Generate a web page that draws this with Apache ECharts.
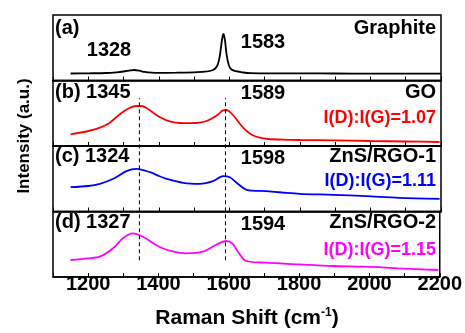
<!DOCTYPE html>
<html>
<head>
<meta charset="utf-8">
<script src="https://cdn.jsdelivr.net/npm/echarts@6/dist/echarts.min.js"></script>
<style>html,body{margin:0;padding:0;background:#fff}#c{width:465px;height:333px}</style>
</head>
<body>
<div id="c"></div>
<script>
// ---- data (Raman shift cm^-1, intensity a.u.) ----
const xMin = 1100, xMax = 2200, tickStep = 100;
const tickLabels = [1200, 1400, 1600, 1800, 2000, 2200];

const graphiteX = [1150,1200,1250,1280,1300,1320,1330,1345,1360,1380,1400,1450,1500,1530,1550,1560,1566,1570,1574,1578,1581,1583,1585,1588,1591,1595,1600,1606,1615,1625,1640,1660,1700,1800,1900,2000,2100,2200];
const graphiteY = [7.0,7.2,7.5,8.2,9.0,10.2,10.5,9.8,8.6,7.9,7.7,7.8,8.2,8.8,10,12,15,19.5,27,38,44.5,46.5,45,39,29,20,14,11,9.6,9.0,8.0,7.4,7.2,7.1,7.0,6.9,6.9,6.8];

const goX = [1150,1200,1233,1260,1280,1300,1318,1335,1350,1365,1384,1400,1422,1440,1460,1490,1516,1535,1554,1570,1582,1592,1600,1610,1620,1635,1649,1665,1686,1710,1752,1800,1894,2000,2100,2196];
const goY = [11.7,15,18.3,23,29,34.5,38.3,40,40,38,33.3,29.5,25.7,23.8,23,22.8,23.3,25,28.3,32,35.7,36,34.5,31,26.7,20,15,11,8.3,7,6.3,6,5.7,5,4.5,4];

const rgo1X = [1150,1200,1233,1271,1308,1337,1375,1400,1422,1469,1516,1554,1582,1601,1624,1649,1705,1750,1799,1894,1988,2082,2196];
const rgo1Y = [24.3,25.5,27.7,32.7,40.3,42.7,39.3,35.5,32.7,28.7,27.7,30.3,35.3,34.3,27.7,21.7,20.3,19,17.7,16.7,15.3,13.7,12.7];

const rgo2X = [1150,1200,1233,1271,1299,1326,1356,1393,1431,1478,1526,1563,1592,1610,1629,1649,1705,1799,1894,1988,2082,2196];
const rgo2Y = [17,18.7,20.3,28.7,38.7,43.7,40.3,32,26.3,23.7,25.3,32,36,33.7,23.7,16,14.3,12.7,11,10.3,8.7,7];

const panelNames = ['Graphite', 'GO', 'ZnS/RGO-1', 'ZnS/RGO-2'];
const panelTags = ['(a)', '(b) 1345', '(c) 1324', '(d) 1327'];
const dPeakLabels = ['1328', '', '', ''];
const gPeakLabels = ['1583', '1589', '1598', '1594'];
const ratioLabels = ['', 'I(D):I(G)=1.07', 'I(D):I(G)=1.11', 'I(D):I(G)=1.15'];
const colors = ['#000000', '#ff0000', '#0000ff', '#ff00ff'];
const dashX = [1345, 1589];
const dashSpan = [0.085, 0.91]; // fraction of lower three panels
const yMax = 65.5;

// ---- layout ----
const L = 53, R = 24, T = 15, H = 65.5;
const font = 'bold 20px "Liberation Sans", Arial, sans-serif';
const series = [[graphiteX, graphiteY], [goX, goY], [rgo1X, rgo1Y], [rgo2X, rgo2Y]];

const grids = [], xAxes = [], yAxes = [], ser = [];
for (let i = 0; i < 4; i++) {
  grids.push({left: L, right: R, top: T + i * H, height: H, show: true, borderColor: '#000', borderWidth: 1.5, backgroundColor: 'transparent'});
  xAxes.push({
    type: 'value', gridIndex: i, min: xMin, max: xMax, interval: tickStep,
    axisLine: {show: true, onZero: false, lineStyle: {color: '#000', width: 1.5}},
    axisTick: {show: true, inside: true, length: 4, lineStyle: {color: '#000', width: 1}},
    splitLine: {show: false},
    axisLabel: i === 3 ? {
      show: true, margin: -3, color: '#000', fontSize: 20, fontWeight: 'bold', fontFamily: '"Liberation Sans", Arial',
      formatter: v => tickLabels.indexOf(v) >= 0 ? String(v) : ''
    } : {show: false}
  });
  yAxes.push({type: 'value', gridIndex: i, min: 0, max: yMax, show: false});
  const [xs, ys] = series[i];
  ser.push({
    type: 'line', xAxisIndex: i, yAxisIndex: i, showSymbol: false, smooth: 0.3,
    lineStyle: {color: colors[i], width: 1.8}, data: xs.map((x, k) => [x, ys[k]]), silent: true
  });
}
// overlay grid for dashed guide lines through panels b-d
grids.push({left: L, right: R, top: T + H, height: 3 * H, show: false});
xAxes.push({type: 'value', gridIndex: 4, min: xMin, max: xMax, show: false});
yAxes.push({type: 'value', gridIndex: 4, min: 0, max: 1, show: false});
dashX.forEach(x => ser.push({
  type: 'line', xAxisIndex: 4, yAxisIndex: 4, showSymbol: false, silent: true,
  lineStyle: {color: '#000', width: 1, type: [4, 3]}, data: [[x, dashSpan[0]], [x, dashSpan[1]]]
}));

// ---- annotation text ----
const g = [];
const tagY = [28.5, 92.5, 156.5, 222.5];
const gY = [42.5, 93.3, 158, 224.5];
const ratioY = [0, 118.3, 180.8, 250];
function txt(text, x, y, align, color, f) {
  g.push({type: 'text', x: x, y: y, style: {text: text, fill: color || '#000', font: f || font, align: align, verticalAlign: 'middle'}, silent: true});
}
for (let i = 0; i < 4; i++) {
  txt(panelTags[i], 55, tagY[i], 'left');
  txt(panelNames[i], 436, tagY[i], 'right');
  txt(gPeakLabels[i], 263, gY[i], 'center');
  if (dPeakLabels[i]) txt(dPeakLabels[i], 109, 50, 'center');
  if (ratioLabels[i]) txt(ratioLabels[i], 436, ratioY[i], 'right', colors[i], 'bold 18px "Liberation Sans", Arial, sans-serif');
}
g.push({type: 'text', x: 24, y: 136, rotation: Math.PI / 2,
  style: {text: 'Intensity (a.u.)', fill: '#000', font: 'bold 17px "Liberation Sans", Arial, sans-serif', align: 'center', verticalAlign: 'middle'}, silent: true});
g.push({type: 'text', x: 247, y: 318,
  style: {text: 'Raman Shift (cm{s|-1})', fill: '#000', font: 'bold 21px "Liberation Sans", Arial, sans-serif', align: 'center', verticalAlign: 'middle',
    rich: {s: {fontSize: 12, fontWeight: 'bold', fontFamily: '"Liberation Sans", Arial', verticalAlign: 'top', padding: [0, 0, 10, 0]}}}, silent: true});

const chart = echarts.init(document.getElementById('c'), null, {renderer: 'canvas'});
chart.setOption({
  animation: false,
  backgroundColor: '#fff',
  grid: grids, xAxis: xAxes, yAxis: yAxes, series: ser, graphic: g
});
</script>
</body>
</html>
